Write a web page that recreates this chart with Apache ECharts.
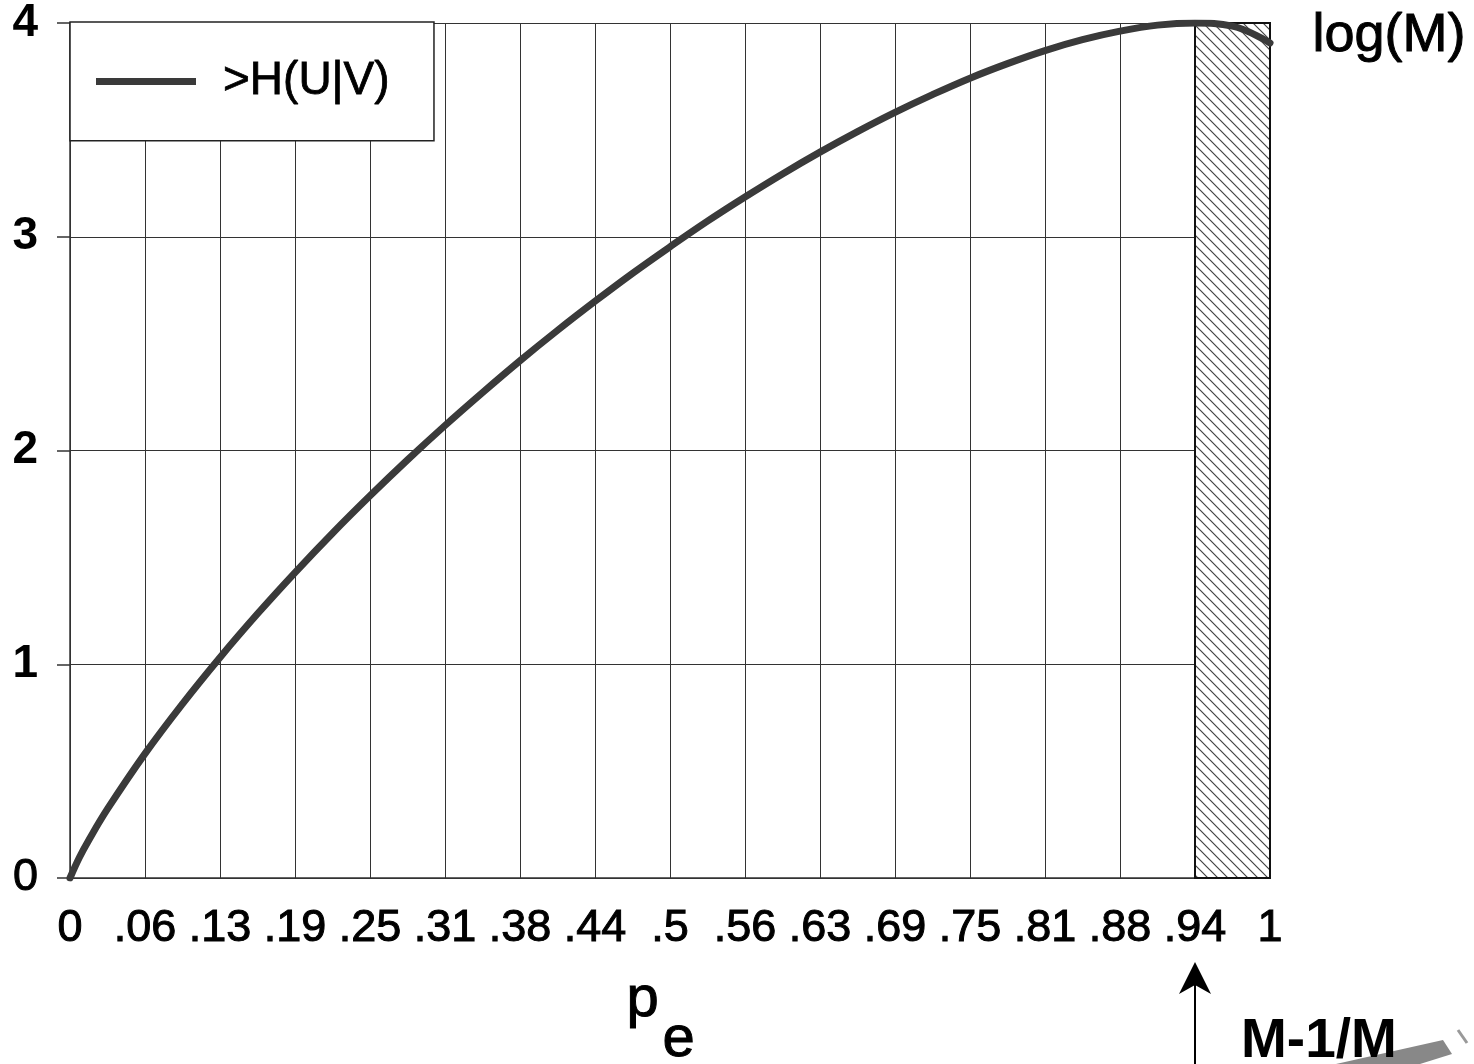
<!DOCTYPE html>
<html>
<head>
<meta charset="utf-8">
<script src="https://cdn.jsdelivr.net/npm/echarts@6/dist/echarts.min.js"></script>
<style>
html,body{margin:0;padding:0;background:#fff;}
#chart{width:1474px;height:1064px;}
</style>
</head>
<body>
<div id="chart"></div>
<script>
// ---- data ----
const pe = [0, 0.0078, 0.015625, 0.03125, 0.0625, 0.09375, 0.125, 0.15625, 0.1875, 0.21875, 0.25, 0.28125, 0.3125, 0.34375, 0.375, 0.40625, 0.4375, 0.46875, 0.5, 0.53125, 0.5625, 0.59375, 0.625, 0.65625, 0.6875, 0.71875, 0.75, 0.78125, 0.8125, 0.84375, 0.875, 0.90625, 0.9375, 0.96875, 1];
const hUV = [0, 0.096, 0.177, 0.323, 0.582, 0.815, 1.032, 1.236, 1.429, 1.613, 1.788, 1.956, 2.117, 2.271, 2.420, 2.562, 2.698, 2.829, 2.953, 3.073, 3.186, 3.294, 3.396, 3.492, 3.582, 3.665, 3.742, 3.810, 3.871, 3.922, 3.962, 3.990, 4.000, 3.985, 3.907];
const xTickLabels = ['0', '.06', '.13', '.19', '.25', '.31', '.38', '.44', '.5', '.56', '.63', '.69', '.75', '.81', '.88', '.94', '1'];
const yTickLabels = ['0', '1', '2', '3', '4'];
const seriesName = '>H(U|V)';
const hatchFrom = 0.9375;   // (M-1)/M
const hatchTo = 1;

const FONT = '"Liberation Sans", Arial, Helvetica, sans-serif';

// hatch pattern
const T = 10;
const tile = document.createElement('canvas');
tile.width = T; tile.height = T;
const tc = tile.getContext('2d');
tc.fillStyle = '#fff'; tc.fillRect(0, 0, T, T);
tc.strokeStyle = '#444'; tc.lineWidth = 1.2;
tc.beginPath();
tc.moveTo(-2, -2); tc.lineTo(T + 2, T + 2);
tc.moveTo(-2, T - 2); tc.lineTo(2, T + 2);
tc.moveTo(T - 2, -2); tc.lineTo(T + 2, 2);
tc.stroke();

const chart = echarts.init(document.getElementById('chart'), null, {renderer: 'canvas'});

const option = {
  backgroundColor: '#fff',
  animation: false,
  grid: {left: 70, right: 204, top: 22, bottom: 186, containLabel: false},
  xAxis: {
    type: 'value', min: 0, max: 1, interval: 0.0625,
    axisLine: {show: true, lineStyle: {color: '#333', width: 1.5}},
    axisTick: {show: false},
    splitLine: {show: true, lineStyle: {color: '#333', width: 1}},
    axisLabel: {
      margin: 28, fontSize: 45, color: '#000', fontFamily: FONT,
      textBorderColor: '#000', textBorderWidth: 1,
      formatter: v => xTickLabels[Math.round(v * 16)]
    }
  },
  yAxis: {
    type: 'value', min: 0, max: 4, interval: 1,
    axisLine: {show: true, lineStyle: {color: '#333', width: 1.5}},
    axisTick: {show: true, inside: false, length: 13, lineStyle: {color: '#333', width: 1.5}},
    splitLine: {show: true, lineStyle: {color: '#333', width: 1}},
    axisLabel: {
      margin: 32, color: '#000', fontFamily: FONT,
      formatter: v => {
        const t = yTickLabels[Math.round(v)];
        return v === 0 ? '{n|' + t + '}' : '{b|' + t + '}';
      },
      rich: {
        n: {fontSize: 45, fontWeight: 'normal', fontFamily: FONT, color: '#000', textBorderColor: '#000', textBorderWidth: 1},
        b: {fontSize: 46, fontWeight: 'bold', fontFamily: FONT, color: '#000'}
      }
    }
  },
  legend: {
    show: true, left: 70, top: 22,
    backgroundColor: '#fff', borderColor: '#222', borderWidth: 1.5,
    padding: [36, 44, 36, 26],
    icon: 'rect', itemWidth: 100, itemHeight: 7,
    textStyle: {fontSize: 46, color: '#000', fontFamily: FONT, padding: [0, 0, 0, 22],
      textBorderColor: '#000', textBorderWidth: 0.8},
    data: [{name: seriesName, itemStyle: {color: '#3a3a3a'}}],
    z: 10
  },
  series: [{
    name: seriesName,
    type: 'line',
    data: pe.map((p, i) => [p, hUV[i]]),
    smooth: 0.4,
    showSymbol: false,
    lineStyle: {color: '#3a3a3a', width: 7, cap: 'round', join: 'round'},
    itemStyle: {color: '#3a3a3a'},
    z: 5,
    markArea: {
      silent: true,
      itemStyle: {color: {image: tile, repeat: 'repeat'}, borderColor: '#111', borderWidth: 2},
      data: [[{xAxis: hatchFrom, yAxis: 0}, {xAxis: hatchTo, yAxis: 4}]]
    }
  }]
};
chart.setOption(option);

// annotations positioned through the chart's own scales
const topRight = chart.convertToPixel({gridIndex: 0}, [1, 4]);
const arrowX = chart.convertToPixel({gridIndex: 0}, [hatchFrom, 0])[0];
const mid = chart.convertToPixel({gridIndex: 0}, [0.5, 0]);

chart.setOption({
  graphic: [
    {type: 'text', left: topRight[0] + 42, top: topRight[1] - 14, z: 20,
      style: {text: 'log(M)', font: '54px ' + FONT, fill: '#000', stroke: '#000', lineWidth: 1}},
    {type: 'text', left: mid[0] - 44, top: mid[1] + 92, z: 20,
      style: {text: 'p', font: '58px ' + FONT, fill: '#000', stroke: '#000', lineWidth: 1}},
    {type: 'text', left: mid[0] - 8, top: mid[1] + 132, z: 20,
      style: {text: 'e', font: '58px ' + FONT, fill: '#000', stroke: '#000', lineWidth: 1}},
    {type: 'line', z: 20, shape: {x1: arrowX, y1: 1064, x2: arrowX, y2: 966},
      style: {stroke: '#000', lineWidth: 2}},
    {type: 'polygon', z: 20, shape: {points: [[arrowX, 962], [arrowX - 16, 994], [arrowX, 985], [arrowX + 16, 994]]},
      style: {fill: '#000'}},
    {type: 'polygon', z: 15, shape: {points: [[1336, 1064], [1443, 1040], [1452, 1054], [1420, 1064]]},
      style: {fill: '#888'}},
    {type: 'line', z: 15, shape: {x1: 1458, y1: 1030, x2: 1467, y2: 1043},
      style: {stroke: '#999', lineWidth: 3}},
    {type: 'text', left: arrowX + 46, top: 1014, z: 20,
      style: {text: 'M-1/M', font: 'bold 55px ' + FONT, fill: '#000'}}
  ]
});
</script>
</body>
</html>
